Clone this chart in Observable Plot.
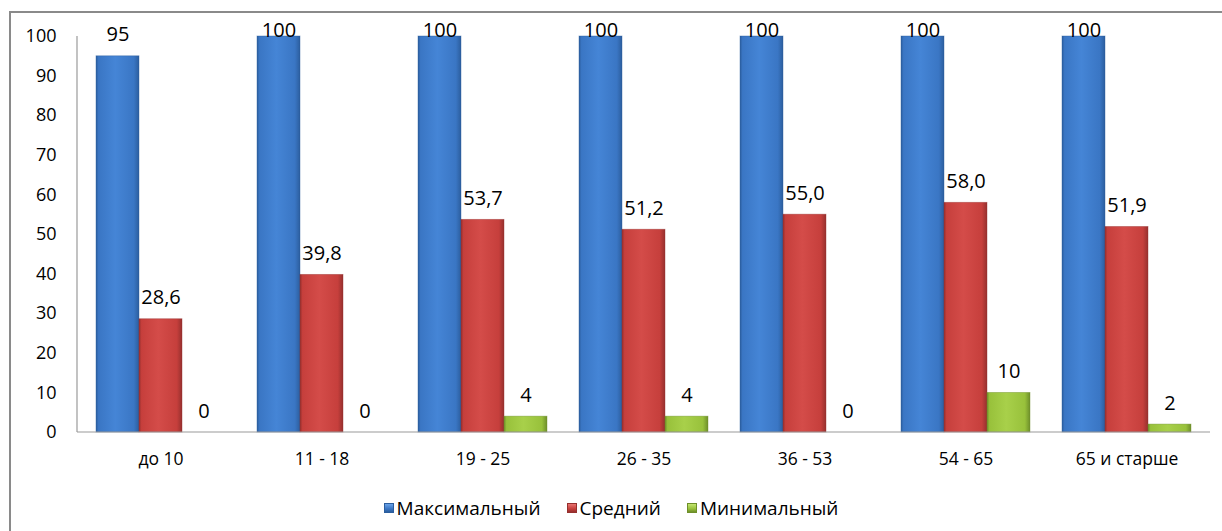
<!DOCTYPE html>
<html>
<head>
<meta charset="utf-8">
<script src="https://cdn.jsdelivr.net/npm/d3@7"></script>
<script src="https://cdn.jsdelivr.net/npm/@observablehq/plot@0.6"></script>
<style>
  html, body { margin: 0; padding: 0; background: #fff; overflow: hidden; width: 1222px; height: 531px; }
  #frame { position: absolute; left: 9px; top: 11px; width: 1300px; height: 600px; border: 2px solid #8a8a8a; box-sizing: border-box; }
  #chart { position: absolute; left: 0; top: 0; }
  #legend { position: absolute; left: 0; top: 495px; width: 1222px; display: flex; justify-content: center; gap: 26px;
            font-family: "Open Sans", sans-serif; font-size: 19px; color: #000; }
  .item { display: flex; align-items: center; gap: 3px; }
  .sw { width: 10px; height: 10px; display: inline-block; }
</style>
</head>
<body>
<div id="frame"></div>
<div id="chart"></div>
<div id="legend"></div>
<script>
const categories = ["до 10", "11 - 18", "19 - 25", "26 - 35", "36 - 53", "54 - 65", "65 и старше"];
const series = ["Максимальный", "Средний", "Минимальный"];
const maxValues = [95, 100, 100, 100, 100, 100, 100];
const avgValues = [28.6, 39.8, 53.7, 51.2, 55.0, 58.0, 51.9];
const minValues = [0, 0, 4, 4, 0, 10, 2];
const yTicks = [0, 10, 20, 30, 40, 50, 60, 70, 80, 90, 100];

const palette = [
  {id: "gBlue", edge: "#2c5e9e", base: "#3a76c4", light: "#4585d6", top: "#6aa3e8"},
  {id: "gRed", edge: "#96302e", base: "#c63f3c", light: "#d44c49", top: "#e87370"},
  {id: "gGreen", edge: "#6e8f2a", base: "#98c13b", light: "#a8d04a", top: "#c3e670"}
];

const valueSets = [maxValues, avgValues, minValues];
const rows = [];
series.forEach((s, si) => {
  categories.forEach((c, ci) => {
    const v = valueSets[si][ci];
    rows.push({category: c, series: s, value: v,
      label: si === 1 ? v.toFixed(1).replace(".", ",") : String(v)});
  });
});

const width = 1222, height = 480, mL = 77, mR = 12, mT = 36, mB = 48;

const chart = Plot.plot({
  width, height,
  marginTop: mT, marginBottom: mB, marginLeft: mL, marginRight: mR,
  style: {fontFamily: "'Open Sans', sans-serif", fontSize: "18px", color: "#000", background: "transparent", overflow: "visible"},
  fx: {domain: categories, paddingInner: 0.2, paddingOuter: 0.11, label: null},
  x: {domain: series, padding: 0, axis: null},
  y: {domain: [0, 100], label: null},
  marks: [
    Plot.axisY({ticks: yTicks, tickSize: 0, dx: -31, label: null, fill: "#000", fontSize: 18}),
    Plot.axisFx({anchor: "bottom", tickSize: 0, tickPadding: 20, label: null, fill: "#000", fontSize: 17.5}),
    ...series.map((s, si) => Plot.barY(rows.filter(d => d.series === s), {
      fx: "category", x: "series", y: "value", fill: `url(#${palette[si].id})`,
      stroke: palette[si].edge, strokeOpacity: 0.5, strokeWidth: 0.8
    })),
    Plot.text(rows, {fx: "category", x: "series", y: d => Math.min(d.value + 5.4, 101.5), text: "label", fill: "#000", fontSize: 20})
  ]
});

const svg = d3.select(chart);
const defs = svg.insert("defs", ":first-child");
palette.forEach(p => {
  const g = defs.append("linearGradient").attr("id", p.id).attr("x1", 0).attr("x2", 1).attr("y1", 0).attr("y2", 0);
  g.append("stop").attr("offset", "0%").attr("stop-color", p.edge);
  g.append("stop").attr("offset", "6%").attr("stop-color", p.base);
  g.append("stop").attr("offset", "45%").attr("stop-color", p.light);
  g.append("stop").attr("offset", "88%").attr("stop-color", p.base);
  g.append("stop").attr("offset", "100%").attr("stop-color", p.edge);
});
const y = chart.scale("y");
svg.append("line").attr("x1", mL).attr("x2", width - mR).attr("y1", y.apply(0)).attr("y2", y.apply(0))
  .attr("stroke", "#9a9a9a").attr("stroke-width", 1.2);
svg.append("line").attr("x1", mL).attr("x2", mL).attr("y1", y.apply(100)).attr("y2", y.apply(0))
  .attr("stroke", "#9a9a9a").attr("stroke-width", 1.2);

document.getElementById("chart").appendChild(chart);

const legend = document.getElementById("legend");
series.forEach((s, si) => {
  const p = palette[si];
  const item = document.createElement("div");
  item.className = "item";
  const sw = document.createElement("span");
  sw.className = "sw";
  sw.style.background = `linear-gradient(to bottom, ${p.top}, ${p.base} 60%, ${p.edge})`;
  sw.style.border = `1px solid ${p.edge}`;
  sw.style.boxSizing = "border-box";
  const t = document.createElement("span");
  t.textContent = s;
  item.appendChild(sw);
  item.appendChild(t);
  legend.appendChild(item);
});
</script>
</body>
</html>
